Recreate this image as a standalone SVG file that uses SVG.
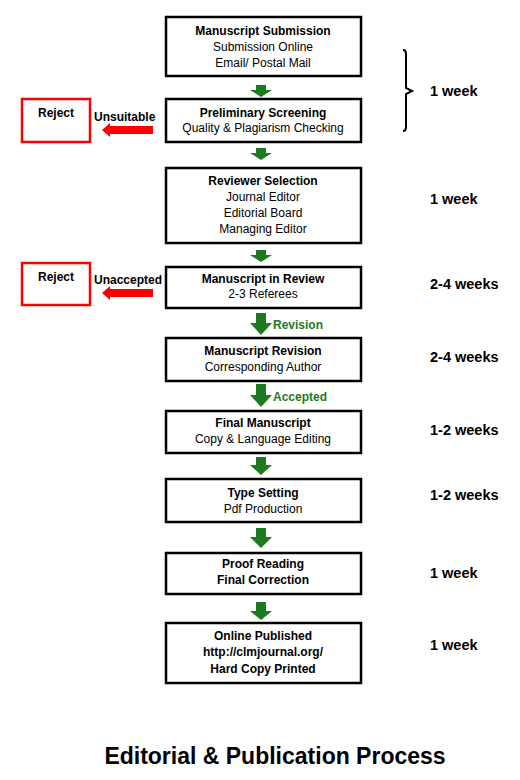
<svg xmlns="http://www.w3.org/2000/svg" width="520" height="780" viewBox="0 0 520 780">
<style>
.box{fill:#fff;stroke:#000;stroke-width:2.5}
.rbox{fill:#fff;stroke:#f00;stroke-width:2.5}
.t{font-family:"Liberation Sans",Arial,sans-serif;font-size:12px;fill:#000;text-anchor:middle}
.b{font-weight:bold}
.ga{fill:#1e7a1e}
.ra{fill:#f00}
.gl{font-family:"Liberation Sans",Arial,sans-serif;font-size:12px;font-weight:bold;fill:#1e7a1e}
.lbl{font-family:"Liberation Sans",Arial,sans-serif;font-size:12px;font-weight:bold;fill:#000}
.wk{font-family:"Liberation Sans",Arial,sans-serif;font-size:14.5px;font-weight:bold;fill:#000}
.title{font-family:"Liberation Sans",Arial,sans-serif;font-size:23px;font-weight:bold;fill:#000;text-anchor:middle}
</style>
<rect width="520" height="780" fill="#fff"/>

<g id="connectors">
<polygon class="ga" points="256,85 266,85 266,90 272,90 261,97 250,90 256,90"/>
<polygon class="ga" points="256,148 266,148 266,153 272,153 261,160 250,153 256,153"/>
<polygon class="ga" points="256,250 266,250 266,255 272,255 261,262 250,255 256,255"/>
<polygon class="ga" points="256,313 266,313 266,323 272,323 261,335 250,323 256,323"/>
<polygon class="ga" points="256,384 266,384 266,395 272,395 261,407 250,395 256,395"/>
<polygon class="ga" points="256,457 266,457 266,465 272,465 261,475 250,465 256,465"/>
<polygon class="ga" points="256,528 266,528 266,537 272,537 261,548 250,537 256,537"/>
<polygon class="ga" points="256,602 266,602 266,611 272,611 261,620 250,611 256,611"/>
<polygon class="ra" points="153,126 110,126 110,123 102,130 110,137 110,134 153,134"/>
<polygon class="ra" points="153,289 110,289 110,286 102,293 110,300 110,297 153,297"/>
<text class="gl" x="273" y="329">Revision</text>
<text class="gl" x="273" y="401">Accepted</text>
<text class="lbl" x="94" y="121">Unsuitable</text>
<text class="lbl" x="94" y="284">Unaccepted</text>
</g>

<g id="submission">
<rect class="box" x="166" y="17" width="195" height="59"/>
<text class="t b" x="263" y="35">Manuscript Submission</text>
<text class="t" x="263" y="51">Submission Online</text>
<text class="t" x="263" y="67">Email/ Postal Mail</text>
</g>

<g id="screening">
<rect class="box" x="166" y="99" width="195" height="43"/>
<text class="t b" x="263" y="117">Preliminary Screening</text>
<text class="t" x="263" y="132">Quality &amp; Plagiarism Checking</text>
</g>

<g id="reviewer">
<rect class="box" x="166" y="168" width="195" height="75"/>
<text class="t b" x="263" y="185">Reviewer Selection</text>
<text class="t" x="263" y="201">Journal  Editor</text>
<text class="t" x="263" y="217">Editorial Board</text>
<text class="t" x="263" y="233">Managing Editor</text>
</g>

<g id="review">
<rect class="box" x="166" y="267" width="195" height="41"/>
<text class="t b" x="263" y="283">Manuscript in Review</text>
<text class="t" x="263" y="298">2-3 Referees</text>
</g>

<g id="revision">
<rect class="box" x="166" y="338" width="195" height="43"/>
<text class="t b" x="263" y="355">Manuscript Revision</text>
<text class="t" x="263" y="371">Corresponding  Author</text>
</g>

<g id="final">
<rect class="box" x="166" y="411" width="195" height="42"/>
<text class="t b" x="263" y="427">Final Manuscript</text>
<text class="t" x="263" y="443">Copy &amp; Language Editing</text>
</g>

<g id="typesetting">
<rect class="box" x="166" y="479" width="195" height="43"/>
<text class="t b" x="263" y="497">Type Setting</text>
<text class="t" x="263" y="513">Pdf Production</text>
</g>

<g id="proof">
<rect class="box" x="166" y="553" width="195" height="41"/>
<text class="t b" x="263" y="568">Proof Reading</text>
<text class="t b" x="263" y="584">Final Correction</text>
</g>

<g id="published">
<rect class="box" x="166" y="623" width="195" height="60"/>
<text class="t b" x="263" y="640">Online Published</text>
<text class="t b" x="263" y="656">http://clmjournal.org/</text>
<text class="t b" x="263" y="673">Hard Copy Printed</text>
</g>

<g id="reject1">
<rect class="rbox" x="22" y="99" width="68" height="43"/>
<text class="t b" x="56" y="117">Reject</text>
</g>

<g id="reject2">
<rect class="rbox" x="22" y="263" width="68" height="42"/>
<text class="t b" x="56" y="281">Reject</text>
</g>

<g id="timeline">
<path d="M403,50 Q406,50 406,54 L406,88 L412,91 L406,94 L406,127 Q406,131 403,131" fill="none" stroke="#000" stroke-width="2"/>
<text class="wk" x="430" y="96">1 week</text>
<text class="wk" x="430" y="204">1 week</text>
<text class="wk" x="430" y="289">2-4 weeks</text>
<text class="wk" x="430" y="362">2-4 weeks</text>
<text class="wk" x="430" y="435">1-2 weeks</text>
<text class="wk" x="430" y="500">1-2 weeks</text>
<text class="wk" x="430" y="578">1 week</text>
<text class="wk" x="430" y="650">1 week</text>
</g>

<text class="title" x="275" y="764">Editorial &amp; Publication Process</text>
</svg>
